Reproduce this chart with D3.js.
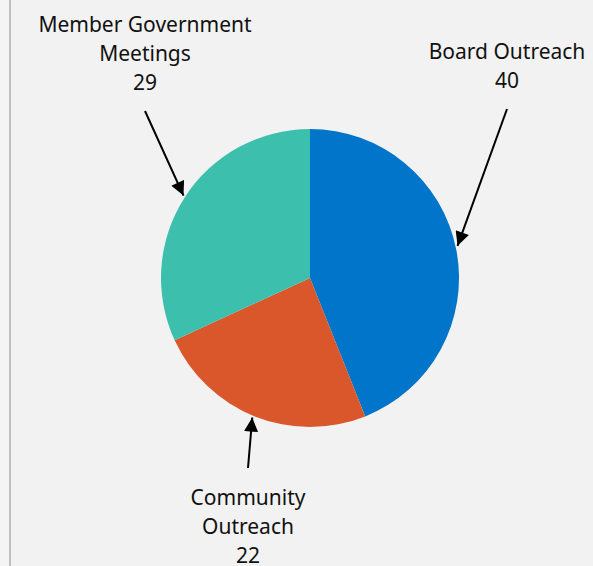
<!DOCTYPE html>
<html><head><meta charset="utf-8">
<script src="https://cdn.jsdelivr.net/npm/d3@7"></script>
<style>html,body{margin:0;padding:0;background:#f4f4f4;}</style>
</head><body>
<svg id="chart" width="593" height="566"></svg>
<script>
const categories = ["Board Outreach", "Community Outreach", "Member Government Meetings"];
const values = [40, 22, 29];
const colors = ["#0075c9", "#d9572b", "#3dbfad"];
const labelLines = [["Board Outreach", "40"], ["Community", "Outreach", "22"], ["Member Government", "Meetings", "29"]];

const svg = d3.select("#chart");
svg.append("rect").attr("x", 11).attr("y", 0).attr("width", 582).attr("height", 566).attr("fill", "#f2f2f2");
svg.append("rect").attr("x", 9).attr("y", 0).attr("width", 2).attr("height", 566).attr("fill", "#c0c0c0");

const cx = 310, cy = 278, r = 149;
const data = categories.map((c, i) => ({cat: c, value: values[i], color: colors[i], lines: labelLines[i]}));
const pie = d3.pie().value(d => d.value).sort(null);
const arc = d3.arc().innerRadius(0).outerRadius(r);
const arcs = pie(data);
const g = svg.append("g").attr("transform", `translate(${cx},${cy})`);
g.selectAll("path").data(arcs).enter().append("path").attr("d", arc).attr("fill", d => d.data.color);

svg.append("defs").append("marker").attr("id", "ah").attr("viewBox", "0 0 10 10")
  .attr("refX", 10).attr("refY", 5).attr("markerWidth", 15).attr("markerHeight", 14)
  .attr("markerUnits", "userSpaceOnUse").attr("orient", "auto")
  .append("path").attr("d", "M0,0 L10,5 L0,10 Z").attr("fill", "#000");

// label placement (text center x, first line y), arrow start, arrow end angle on the pie
const layout = [
  {tx: 507, ty: 52, sx: 507, sy: 109, ang: 1.356},
  {tx: 248, ty: 498, sx: 248, sy: 468, ang: 3.534},
  {tx: 145, ty: 25, sx: 145, sy: 111, ang: 5.29}
];
const lineH = 29;
arcs.forEach((a, i) => {
  const L = layout[i];
  const rr = r + 2;
  const ex = cx + rr * Math.sin(L.ang), ey = cy - rr * Math.cos(L.ang);
  svg.append("line").attr("x1", L.sx).attr("y1", L.sy).attr("x2", ex).attr("y2", ey)
    .attr("stroke", "#000").attr("stroke-width", 2).attr("marker-end", "url(#ah)");
  const t = svg.append("text").attr("text-anchor", "middle")
    .attr("font-family", "'Noto Sans', sans-serif").attr("font-size", 21).attr("fill", "#111");
  a.data.lines.forEach((ln, j) => {
    t.append("tspan").attr("x", L.tx).attr("y", L.ty + j * lineH).attr("dy", "0.35em").text(ln);
  });
});
</script>
</body></html>
